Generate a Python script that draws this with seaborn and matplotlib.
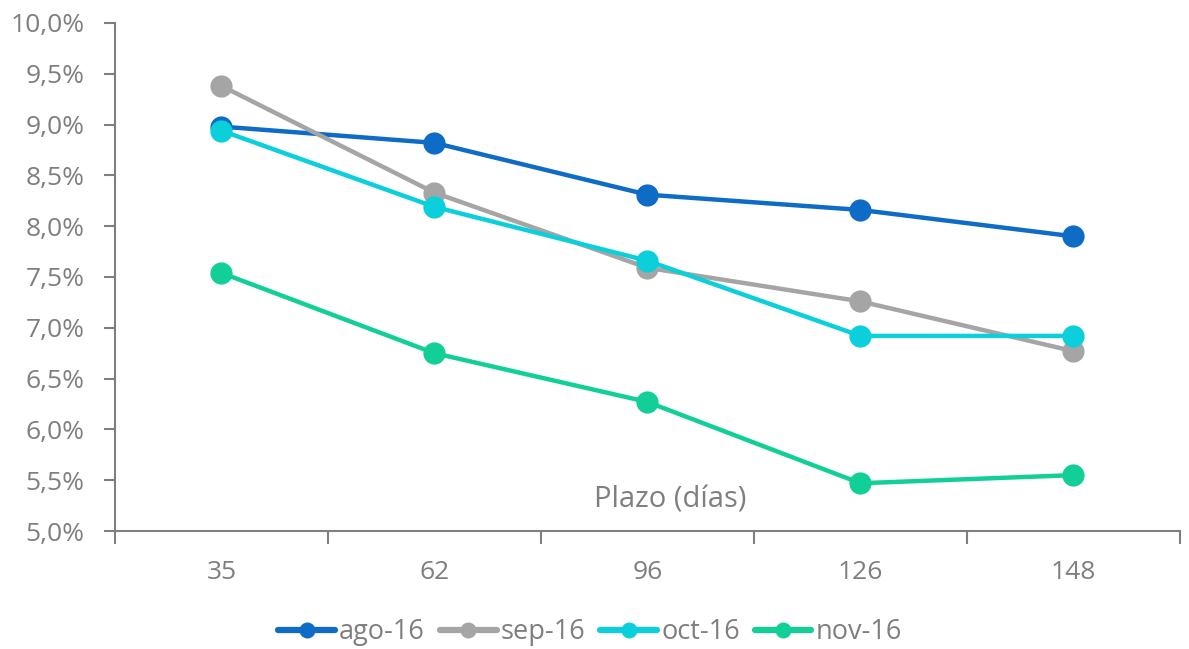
import matplotlib
matplotlib.use("Agg")
import matplotlib.pyplot as plt
import seaborn as sns
import pandas as pd
from matplotlib.lines import Line2D
from matplotlib.ticker import FuncFormatter, MultipleLocator, FixedLocator

# datos (tasa %, por plazo en días)
plazos = ["35", "62", "96", "126", "148"]
ago_16 = [8.98, 8.82, 8.31, 8.16, 7.90]
sep_16 = [9.38, 8.33, 7.59, 7.26, 6.77]
oct_16 = [8.94, 8.19, 7.66, 6.92, 6.92]
nov_16 = [7.54, 6.75, 6.27, 5.47, 5.55]
series = ["ago-16", "sep-16", "oct-16", "nov-16"]
colores = ["#0F6CC6", "#A5A5A5", "#0BCFDA", "#12CF98"]

df = pd.DataFrame({
    "plazo": plazos * 4,
    "tasa": ago_16 + sep_16 + oct_16 + nov_16,
    "serie": [s for s in series for _ in plazos],
})

sns.set_style("white")
plt.rcParams["font.family"] = ["Open Sans", "DejaVu Sans"]
gris = "#7F7F7F"

fig = plt.figure(figsize=(11.89, 6.49), dpi=100)
ax = fig.add_axes([0.0967, 0.1818, 0.8957, 0.7828])

sns.lineplot(data=df, x="plazo", y="tasa", hue="serie", hue_order=series,
             palette=colores, marker="o", markersize=16, markeredgewidth=0,
             linewidth=3.2, sort=False, legend=False, ax=ax)

ax.set_ylim(5.0, 10.0)
ax.set_xlim(-0.5, 4.5)
ax.yaxis.set_major_locator(MultipleLocator(0.5))
ax.yaxis.set_major_formatter(FuncFormatter(lambda v, p: f"{v:.1f}%".replace(".", ",")))
ax.xaxis.set_minor_locator(FixedLocator([i - 0.5 for i in range(len(plazos) + 1)]))

ax.tick_params(axis="y", which="major", direction="out", length=8, width=1.5,
               color=gris, labelcolor=gris, labelsize=19, pad=14, left=True)
ax.tick_params(axis="x", which="major", length=0, labelcolor=gris, labelsize=19, pad=21)
ax.tick_params(axis="x", which="minor", direction="out", length=9, width=1.5,
               color=gris, bottom=True)

for lado in ["top", "right"]:
    ax.spines[lado].set_visible(False)
for lado in ["left", "bottom"]:
    ax.spines[lado].set_color(gris)
    ax.spines[lado].set_linewidth(1.5)

ax.set_xlabel("")
ax.set_ylabel("")
ax.text(0.521, 0.061, "Plazo (días)", transform=ax.transAxes, ha="center", va="center",
        fontsize=21, color=gris)

handles = [Line2D([0], [0], color=c, linewidth=4.5, marker="o", markersize=11.5,
                  markeredgewidth=0, solid_capstyle="round") for c in colores]
ax.legend(handles, series, loc="center", bbox_to_anchor=(0.446, -0.199), ncol=4,
          frameon=False, fontsize=19.5, labelcolor=gris, handlelength=2.1,
          handletextpad=0.15, columnspacing=0.55)

fig.savefig("out.png", dpi=100)
